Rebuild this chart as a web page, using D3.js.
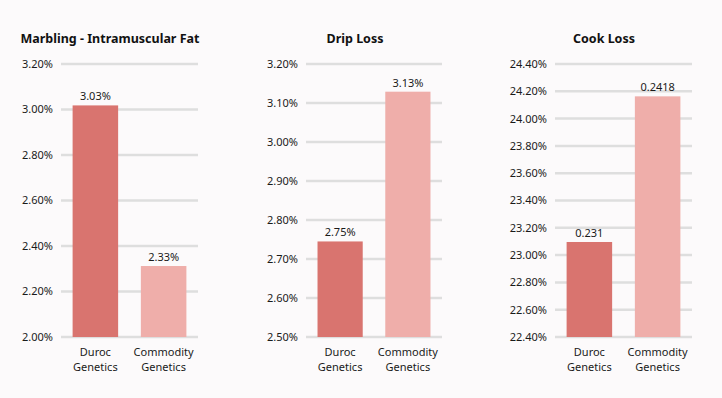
<!DOCTYPE html>
<html><head><meta charset="utf-8">
<script src="https://cdn.jsdelivr.net/npm/d3@7"></script>
<style>
html,body{margin:0;padding:0;background:#fcfafb;}
svg{display:block;font-family:"Noto Sans",sans-serif;}
</style></head>
<body><svg id="c" width="722" height="398"></svg>
<script>
const categories = [["Duroc","Genetics"],["Commodity","Genetics"]];
const titles = ["Marbling - Intramuscular Fat","Drip Loss","Cook Loss"];
const marblingValues = [3.018, 2.312];
const dripValues = [2.745, 3.129];
const cookValues = [23.096, 24.163];
const marblingLabels = ["3.03%","2.33%"];
const dripLabels = ["2.75%","3.13%"];
const cookLabels = ["0.231","0.2418"];
const marblingTicks = [2.00,2.20,2.40,2.60,2.80,3.00,3.20];
const dripTicks = [2.50,2.60,2.70,2.80,2.90,3.00,3.10,3.20];
const cookTicks = [22.40,22.60,22.80,23.00,23.20,23.40,23.60,23.80,24.00,24.20,24.40];
const colors = ["#d9746f","#efaeaa"];

const panels = [
  {title:titles[0], values:marblingValues, labels:marblingLabels, ticks:marblingTicks, x0:61, x1:198, tx:110},
  {title:titles[1], values:dripValues, labels:dripLabels, ticks:dripTicks, x0:306, x1:442, tx:355},
  {title:titles[2], values:cookValues, labels:cookLabels, ticks:cookTicks, x0:555, x1:692, tx:604}
];
const svg = d3.select("#c");
const yTop = 64, yBot = 337;

panels.forEach(p => {
  const g = svg.append("g");
  const y = d3.scaleLinear().domain([p.ticks[0], p.ticks[p.ticks.length-1]]).range([yBot, yTop]);
  const x = d3.scaleBand().domain(d3.range(categories.length)).range([p.x0, p.x1]).paddingInner(0.333).paddingOuter(0.17);
  g.selectAll("line.grid").data(p.ticks).join("line")
    .attr("x1", p.x0).attr("x2", p.x1)
    .attr("y1", d => y(d)).attr("y2", d => y(d))
    .attr("stroke", "#dedede").attr("stroke-width", 2.5);
  g.selectAll("text.tick").data(p.ticks).join("text")
    .attr("x", p.x0 - 8).attr("y", d => y(d)).attr("dy", "0.36em")
    .attr("text-anchor", "end").attr("font-size", 11).attr("fill", "#1a1a1a")
    .text(d => d.toFixed(2) + "%");
  g.selectAll("rect").data(p.values).join("rect")
    .attr("x", (d,i) => x(i)).attr("width", x.bandwidth())
    .attr("y", d => y(d)).attr("height", d => yBot - y(d))
    .attr("fill", (d,i) => colors[i]);
  g.selectAll("text.val").data(p.values).join("text")
    .attr("x", (d,i) => x(i) + x.bandwidth()/2).attr("y", d => y(d) - 5)
    .attr("text-anchor", "middle").attr("font-size", 11).attr("fill", "#1a1a1a")
    .text((d,i) => p.labels[i]);
  categories.forEach((c,i) => {
    const t = g.append("text").attr("text-anchor","middle").attr("font-size",11).attr("fill","#1a1a1a");
    c.forEach((line,k) => t.append("tspan").attr("x", x(i)+x.bandwidth()/2).attr("y", 356 + k*14.5).text(line));
  });
  g.append("text").attr("x", p.tx).attr("y", 43).attr("text-anchor","middle")
    .attr("font-size", 12.5).attr("font-weight","bold").attr("fill","#111").text(p.title);
});
</script></body></html>
